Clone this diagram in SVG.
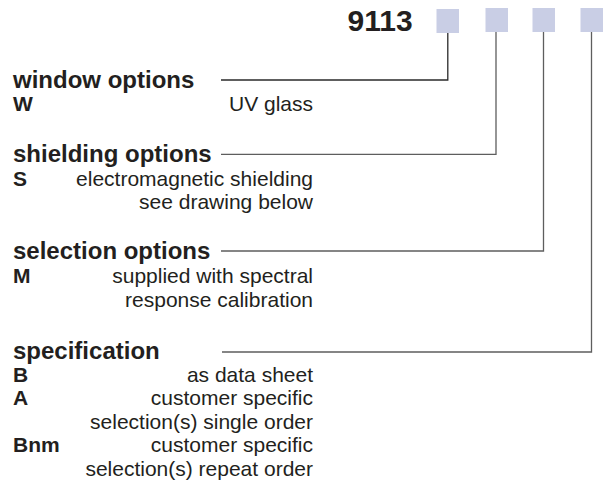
<svg xmlns="http://www.w3.org/2000/svg" width="611" height="484" viewBox="0 0 611 484">
  <style>
    text { font-family: "Liberation Sans", Arial, sans-serif; fill: #231f20; }
    .code { font-size: 30px; font-weight: bold; }
    .title { font-size: 24px; font-weight: bold; }
    .key { font-size: 21px; font-weight: bold; }
    .desc { font-size: 21px; text-anchor: end; }
    .box { fill: #c9cee5; }
    .conn { fill: none; stroke: #5e5e5e; stroke-width: 1.3; }
    .conn.dark { stroke: #2a2a2a; }
  </style>
  <rect width="611" height="484" fill="#ffffff"/>

  <g id="code">
    <text class="code" x="347.5" y="31">9113</text>
    <rect class="box" x="436.5" y="9" width="22.5" height="24"/>
    <rect class="box" x="485.5" y="8" width="22.5" height="24"/>
    <rect class="box" x="532.5" y="8" width="22.5" height="24"/>
    <rect class="box" x="580.5" y="8" width="22.5" height="24"/>
  </g>

  <g id="connectors">
    <path class="conn dark" d="M221 80 H447.8 V33"/>
    <path class="conn" d="M221 154.3 H496 V32"/>
    <path class="conn" d="M221 251 H543.5 V32"/>
    <path class="conn" d="M222 352 H591.5 V32"/>
  </g>

  <g id="window-options">
    <text class="title" x="13" y="87.5">window options</text>
    <text class="key" x="13" y="111">W</text>
    <text class="desc" x="313" y="111">UV glass</text>
  </g>

  <g id="shielding-options">
    <text class="title" x="13" y="161.5">shielding options</text>
    <text class="key" x="13" y="185.5">S</text>
    <text class="desc" x="313" y="185.5">electromagnetic shielding</text>
    <text class="desc" x="313" y="209">see drawing below</text>
  </g>

  <g id="selection-options">
    <text class="title" x="13" y="258.5">selection options</text>
    <text class="key" x="13" y="283">M</text>
    <text class="desc" x="313" y="283">supplied with spectral</text>
    <text class="desc" x="313" y="306.5">response calibration</text>
  </g>

  <g id="specification">
    <text class="title" x="13" y="358.5">specification</text>
    <text class="key" x="13" y="381.5">B</text>
    <text class="desc" x="313" y="381.5">as data sheet</text>
    <text class="key" x="13" y="405">A</text>
    <text class="desc" x="313" y="405">customer specific</text>
    <text class="desc" x="313" y="428.5">selection(s) single order</text>
    <text class="key" x="13" y="452">Bnm</text>
    <text class="desc" x="313" y="452">customer specific</text>
    <text class="desc" x="313" y="475.5">selection(s) repeat order</text>
  </g>
</svg>
